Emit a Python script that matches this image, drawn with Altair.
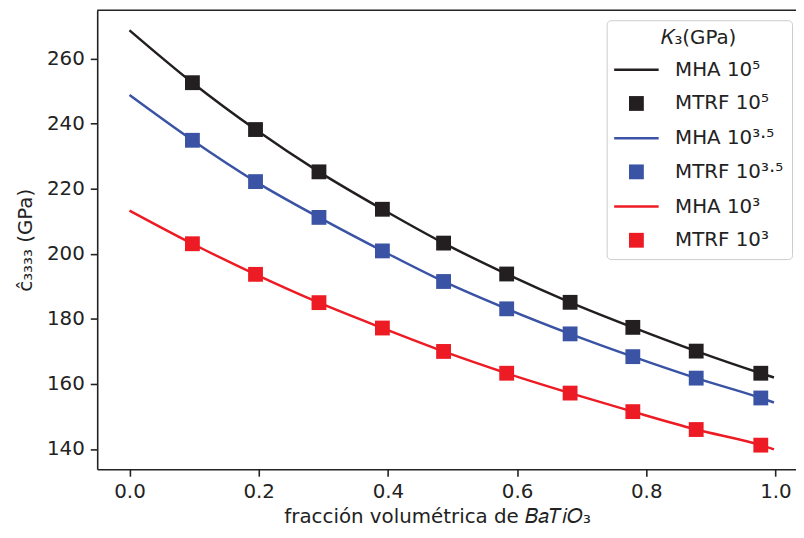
import altair as alt
import pandas as pd

# ---- data ----
x_line = [0.0, 0.0974, 0.1951, 0.2933, 0.3915, 0.4862, 0.5839, 0.6821, 0.7792, 0.8773, 0.9773, 0.9977]
mha_5 = [268.7, 252.6, 238.2, 225.2, 213.7, 203.3, 193.8, 185.1, 177.4, 170.1, 163.3, 162.0]
mha_35 = [248.8, 234.9, 222.2, 211.2, 200.9, 191.5, 183.1, 175.4, 168.4, 161.8, 155.7, 154.3]
mha_3 = [213.3, 203.1, 193.7, 185.0, 177.2, 170.0, 163.3, 157.2, 151.5, 146.0, 141.2, 139.9]

x_mtrf = [0.0974, 0.1951, 0.2933, 0.3915, 0.4862, 0.5839, 0.6821, 0.7792, 0.8773, 0.9773]
mtrf_5 = [252.6, 238.2, 225.2, 213.7, 203.3, 193.8, 185.1, 177.4, 170.1, 163.3]
mtrf_35 = [234.9, 222.2, 211.2, 200.9, 191.5, 183.1, 175.4, 168.4, 161.8, 155.7]
mtrf_3 = [203.1, 193.7, 185.0, 177.2, 170.0, 163.3, 157.2, 151.5, 146.0, 141.2]

labels = ["MHA 10⁵", "MTRF 10⁵", "MHA 10³·⁵", "MTRF 10³·⁵", "MHA 10³", "MTRF 10³"]
colors = ["#231f20", "#231f20", "#3a53a4", "#3a53a4", "#ed1c24", "#ed1c24"]

x_ticks = [0.0, 0.2, 0.4, 0.6, 0.8, 1.0]
y_ticks = [140, 160, 180, 200, 220, 240, 260]

# ---- symbol shapes (legend handle line / square marker), unit = sqrt(size)/2 ----
LINE_PATH = "M-1.32,-0.075H1.32V0.075H-1.32Z"
SQUARE_PATH = "M-0.44,-0.44H0.44V0.44H-0.44Z"
shapes = [LINE_PATH, SQUARE_PATH, LINE_PATH, SQUARE_PATH, LINE_PATH, SQUARE_PATH]
SYM = 1156

# ---- tables ----
rows_line = []
for lab, col, ys in zip([labels[0], labels[2], labels[4]], [colors[0], colors[2], colors[4]], [mha_5, mha_35, mha_3]):
    for xv, yv in zip(x_line, ys):
        rows_line.append({"x": xv, "y": yv, "serie": lab, "col": col})
df_line = pd.DataFrame(rows_line)

rows_pt = []
for lab, ys in zip([labels[1], labels[3], labels[5]], [mtrf_5, mtrf_35, mtrf_3]):
    for xv, yv in zip(x_mtrf, ys):
        rows_pt.append({"x": xv, "y": yv, "serie": lab})
df_pt = pd.DataFrame(rows_pt)

W, H = 705, 463
TXT = "#222222"
FONT = "DejaVu Sans"

xscale = alt.Scale(domain=[-0.05, 1.0318], nice=False, zero=False)
yscale = alt.Scale(domain=[133.8, 274.85], nice=False, zero=False)
cscale = alt.Scale(domain=labels, range=colors)
sscale = alt.Scale(domain=labels, range=shapes)

legend = alt.Legend(
    title="𝐾₃(GPa)",
    orient="none",
    legendX=514,
    legendY=10,
    symbolSize=SYM,
    symbolOpacity=1,
    symbolOffset=4,
    labelFontSize=20,
    labelFont=FONT,
    labelColor=TXT,
    labelOffset=21,
    titleFontSize=20,
    titleFont=FONT,
    titleFontWeight="normal",
    titleColor=TXT,
    titleAnchor="middle",
    titleAlign="center",
    titlePadding=4,
    padding=8,
    rowPadding=6,
    strokeColor="#cccccc",
    fillColor="white",
    cornerRadius=4,
)

xaxis = alt.Axis(
    title="fracción volumétrica de 𝐵𝑎𝑇𝑖𝑂₃",
    values=x_ticks,
    format=".1f",
    titleX=343,
    titleY=54,
    titleAlign="center",
    titleBaseline="alphabetic",
)
yaxis = alt.Axis(
    title="ĉ₃₃₃₃ (GPa)",
    values=y_ticks,
    titleX=-72,
    titleBaseline="middle",
)

lines = alt.Chart(df_line).mark_line(strokeWidth=2.5, interpolate="monotone", clip=True).encode(
    x=alt.X("x:Q", scale=xscale, axis=xaxis),
    y=alt.Y("y:Q", scale=yscale, axis=yaxis),
    color=alt.Color("col:N", scale=None),
    detail="serie:N",
)

points = alt.Chart(df_pt).mark_point(filled=True, size=SYM, opacity=1).encode(
    x=alt.X("x:Q", scale=xscale),
    y=alt.Y("y:Q", scale=yscale),
    color=alt.Color("serie:N", scale=cscale, legend=legend),
    shape=alt.Shape("serie:N", scale=sscale, legend=legend),
)

top_spine = alt.Chart(pd.DataFrame({"a": [0]})).mark_rule(color=TXT, strokeWidth=1.6).encode(
    x=alt.value(0), x2=alt.value(W), y=alt.value(0)
)

chart = alt.layer(lines, points, top_spine).properties(
    width=W,
    height=H,
    padding={"left": 90, "top": 0, "right": 0, "bottom": 60},
    autosize=alt.AutoSizeParams(type="none"),
).configure_view(stroke=None).configure_axis(
    grid=False,
    domainColor=TXT,
    domainWidth=1.6,
    tickColor=TXT,
    tickWidth=1.6,
    tickSize=7,
    labelFontSize=20,
    labelFont=FONT,
    labelColor=TXT,
    labelPadding=6,
    titleFontSize=20,
    titleFont=FONT,
    titleFontWeight="normal",
    titleColor=TXT,
)

chart.save("out.html", embed_options={"renderer": "svg", "actions": False})
